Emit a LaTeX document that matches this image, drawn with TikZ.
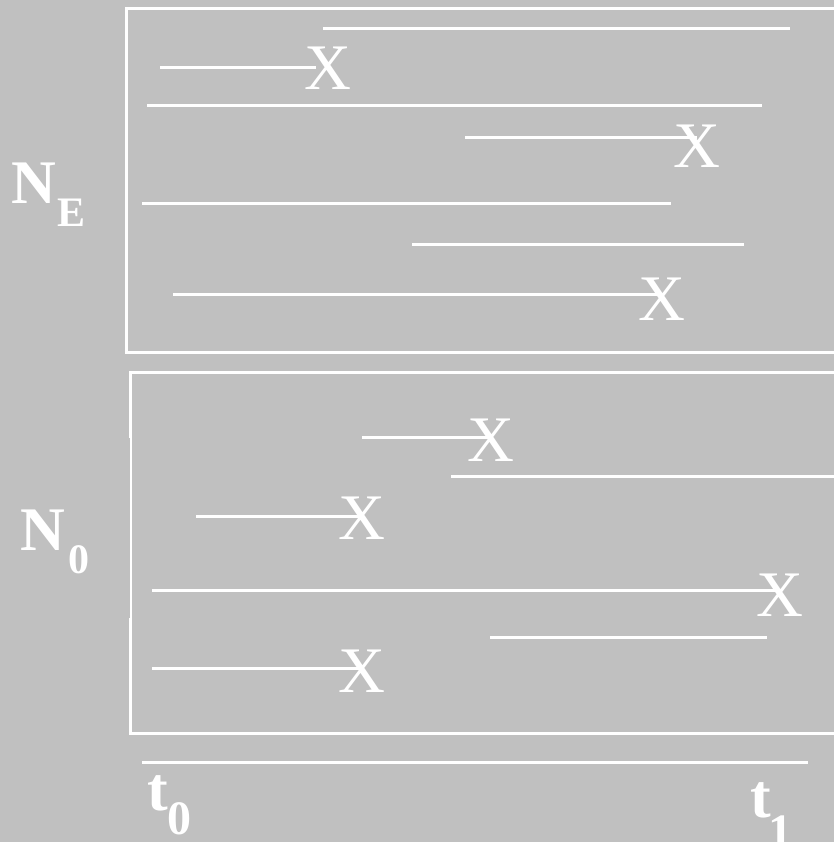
\documentclass[tikz,border=0pt]{standalone}
\usepackage{fontspec}
\setmainfont{Liberation Serif}
\definecolor{bg}{HTML}{C0C0C0}
\begin{document}
\begin{tikzpicture}[x=1pt,y=-1pt,
  boxline/.style={draw=white,line width=3pt},
  life/.style={draw=white,line width=3pt},
  xmark/.style={text=white,inner sep=0pt,font=\fontsize{65}{65}\selectfont},
  biglab/.style={text=white,inner sep=0pt,font=\bfseries\fontsize{62}{62}\selectfont},
  sublab/.style={text=white,inner sep=0pt,font=\bfseries\fontsize{42}{42}\selectfont}]
\fill[bg] (0,0) rectangle (834,842);
\clip (0,0) rectangle (834,842);
% boxes
\draw[boxline] (840,9) -- (126,9) -- (126,352) -- (840,352);
\draw[boxline] (840,372) -- (130,372) -- (130,438);
\draw[draw=white,line width=1.3pt] (131,437) -- (131,619);
\draw[boxline] (130,618) -- (130,733) -- (840,733);
% upper box
\node[xmark] (x1) at (328,68) {X};
\node[xmark] (x2) at (697,146) {X};
\node[xmark] (x3) at (662,299) {X};
\coordinate (a1) at (323,29); \coordinate (b1) at (790,29);
\coordinate (a2) at (160,68);
\coordinate (a3) at (147,106); \coordinate (b3) at (762,106);
\coordinate (a4) at (465,138);
\coordinate (a5) at (142,204); \coordinate (b5) at (671,204);
\coordinate (a6) at (412,244); \coordinate (b6) at (744,244);
\coordinate (a7) at (173,294);
\draw[life] (a1) -- (b1);
\draw[life] (a2) -- (x1.center -| 316,0);
\draw[life] (a3) -- (b3);
\draw[life] (a4) -- (x2.center |- a4);
\draw[life] (a5) -- (b5);
\draw[life] (a6) -- (b6);
\draw[life] (a7) -- (x3.center |- a7);
% lower box
\node[xmark] (y1) at (491,440) {X};
\node[xmark] (y2) at (362,518) {X};
\node[xmark] (y3) at (780,595) {X};
\node[xmark] (y4) at (362,671) {X};
\coordinate (c1) at (362,437);
\coordinate (c2) at (451,476); \coordinate (d2) at (840,476);
\coordinate (c3) at (196,516);
\coordinate (c4) at (152,590);
\coordinate (c5) at (490,637); \coordinate (d5) at (767,637);
\coordinate (c6) at (152,668);
\draw[life] (c1) -- (y1.center |- c1);
\draw[life] (c2) -- (d2);
\draw[life] (c3) -- (y2.center |- c3);
\draw[life] (c4) -- (y3.center |- c4);
\draw[life] (c5) -- (d5);
\draw[life] (c6) -- (y4.center |- c6);
% axis
\coordinate (t0a) at (142,762); \coordinate (t1a) at (808,762);
\draw[life] (t0a) -- (t1a);
\node[biglab] (t0) at (158,793) {t};
\node[sublab,font=\bfseries\fontsize{48}{48}\selectfont] (t0s) at (179,819) {0};
\node[biglab] (t1) at (761,800) {t};
\node[sublab,font=\bfseries\fontsize{48}{48}\selectfont] (t1s) at (780,832) {1};
% labels
\node[biglab] (NE) at (34,183) {N};
\node[sublab] (NEs) at (72,213) {E};
\node[biglab] (N0) at (43,530) {N};
\node[sublab] (N0s) at (79,560) {0};
\end{tikzpicture}
\end{document}
